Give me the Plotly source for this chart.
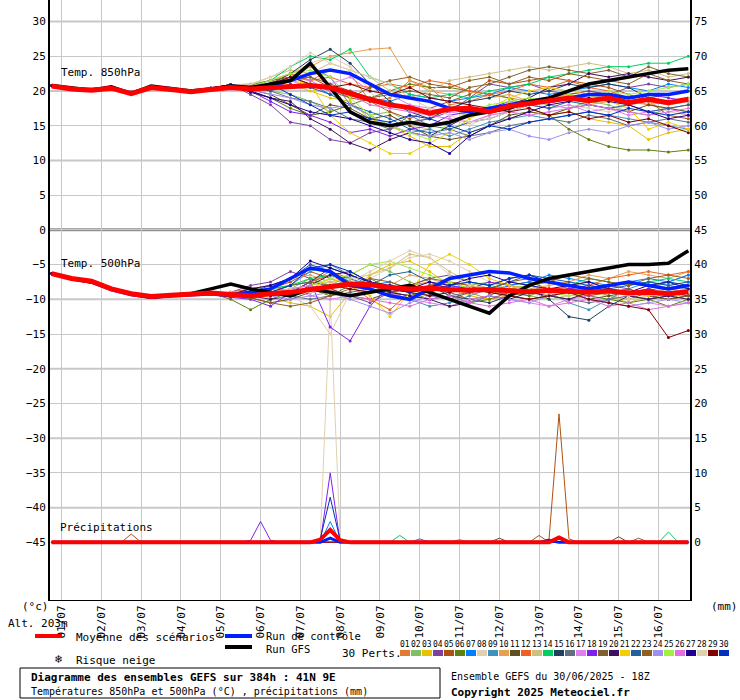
import plotly.graph_objects as go
from datetime import datetime, timedelta

START = datetime(2025, 6, 30, 18)
HOURS12 = list(range(0, 385, 12))
HOURS6 = list(range(0, 385, 6))
DAYS = ["%02d/07" % d for d in range(1, 17)]

COLORS = ["#e07b30", "#80c060", "#e8c000", "#8040a0", "#b05010", "#608010", "#0080ff", "#e0d0b0",
          "#4090c0", "#e8a050", "#605020", "#f06020", "#d0c080", "#00d060", "#204060", "#607080",
          "#e080f0", "#8020f0", "#806030", "#401060", "#f0d000", "#2060a0", "#906020", "#a090f0",
          "#a0f040", "#e070e0", "#200090", "#e0d0b0", "#800000", "#0030c0"]

EARLY850 = [20.8, 20.3, 20.1, 20.5, 19.8, 20.6, 20.3, 20.0, 20.4, 20.9]
TAIL850 = [
[20.8,21.5,22.0,21.5,23.0,22.5,18.5,19.0,21.5,20.5,18.0,18.5,19.5,19.0,18.5,19.0,19.5,20.0,19.5,18.5,18.0,17.5,18.0],
[20.5,20.0,19.5,18.5,17.0,18.0,16.5,17.0,15.5,16.0,17.5,16.5,17.0,18.0,18.5,18.0,17.5,18.5,18.0,17.0,16.5,17.5,17.0],
[20.3,20.5,21.0,20.0,19.0,18.5,16.0,15.0,13.5,12.0,12.0,14.0,15.0,16.0,17.0,16.5,17.0,16.0,15.5,15.0,13.0,14.0,14.5],
[19.5,18.0,15.5,15.0,13.0,12.5,14.0,14.5,15.5,16.0,17.0,19.0,21.0,20.5,21.0,20.0,19.5,20.0,19.5,20.5,21.0,20.5,21.0],
[20.5,21.0,21.5,22.0,20.5,19.0,18.5,17.0,16.0,17.5,18.5,19.5,21.5,21.0,21.5,22.0,21.5,21.0,20.5,19.5,18.5,16.5,16.0],
[20.0,19.0,17.5,16.5,17.0,18.0,19.0,20.0,21.0,20.5,20.5,20.0,19.5,19.0,17.5,16.5,14.5,13.0,12.0,11.5,11.5,11.2,11.5],
[20.8,21.5,20.5,21.0,19.5,20.0,19.0,18.5,19.5,19.0,18.5,19.0,19.5,20.5,20.0,19.5,20.0,20.5,21.0,20.5,20.0,21.0,20.5],
[21.0,21.5,22.5,24.0,25.0,23.5,20.0,16.5,15.0,14.5,16.0,15.0,16.5,17.0,18.0,17.5,18.0,17.5,17.0,18.0,18.5,17.0,16.5],
[20.5,21.0,22.0,23.5,22.0,18.0,16.5,15.0,14.0,14.5,13.5,14.5,15.5,16.0,16.5,16.0,16.5,17.0,16.5,16.0,15.5,15.0,14.5],
[20.6,21.5,22.5,23.5,25.0,25.5,26.0,26.2,21.5,20.0,19.5,20.0,19.0,19.5,18.5,19.0,19.5,18.0,18.5,19.0,18.0,18.5,19.0],
[20.2,19.5,18.0,16.5,18.0,17.5,16.0,16.5,15.0,13.5,13.0,13.5,15.0,16.5,17.0,16.5,17.5,18.0,17.5,17.0,18.0,17.5,17.0],
[20.7,21.0,22.5,21.5,22.0,21.0,20.5,21.0,20.5,21.5,21.0,20.0,19.5,20.0,21.0,20.5,21.5,20.5,20.0,19.0,18.5,18.0,18.5],
[21.0,22.0,23.0,22.5,24.0,23.0,22.0,20.0,19.0,20.0,21.5,22.0,22.5,23.0,23.5,23.0,23.5,24.0,23.5,22.5,23.0,22.0,22.5],
[20.9,21.5,23.5,25.0,24.5,26.0,22.0,21.0,19.5,19.0,19.5,19.0,20.0,20.5,21.0,22.0,22.5,23.0,23.5,23.5,24.0,24.0,25.0],
[20.4,21.0,22.5,24.5,26.0,24.0,21.0,18.5,17.0,16.0,17.5,18.5,19.0,20.0,19.5,20.0,21.0,20.5,21.0,20.5,19.0,19.5,20.0],
[20.3,20.0,19.0,18.5,17.5,16.0,15.5,14.5,16.5,15.0,14.5,13.5,14.0,15.0,15.5,16.0,15.5,16.5,16.0,15.0,15.5,16.0,15.5],
[20.9,21.0,21.5,20.5,21.0,22.0,20.0,19.5,18.0,17.5,17.0,16.5,17.0,17.5,18.0,17.5,18.0,17.0,17.5,16.5,17.0,17.5,16.5],
[20.0,18.5,17.0,16.5,15.5,14.0,14.5,13.5,14.5,15.0,16.5,17.0,17.5,18.5,18.0,19.0,18.5,19.5,19.0,18.0,19.5,19.0,18.5],
[20.4,21.0,21.5,22.0,21.0,20.0,19.0,19.5,20.0,19.5,19.0,20.5,21.0,22.0,23.0,23.5,23.0,22.5,23.0,22.0,23.5,22.5,22.0],
[19.8,19.0,18.5,16.0,14.5,12.5,11.5,13.0,14.0,13.5,15.0,16.5,17.5,18.0,19.0,20.5,21.0,22.5,22.0,22.5,22.0,21.5,22.0],
[20.6,21.0,21.5,21.0,16.5,14.0,12.5,11.0,11.0,12.5,14.0,16.0,17.5,19.0,20.0,20.5,20.0,19.5,18.5,17.5,14.5,15.5,14.5],
[20.5,20.0,21.0,20.5,19.5,18.0,17.0,16.0,14.5,14.0,14.5,15.5,16.0,17.0,18.0,17.5,18.5,18.0,17.5,18.0,17.0,17.5,18.0],
[20.8,21.5,22.0,21.0,20.0,19.0,20.5,21.5,22.0,21.0,20.5,21.5,22.0,21.0,22.0,21.5,22.5,22.0,21.5,21.0,22.5,21.5,21.0],
[20.1,19.5,19.0,18.0,17.5,18.0,16.5,15.0,14.0,13.5,14.0,13.0,14.0,14.5,13.5,13.0,14.0,14.5,14.0,15.0,15.5,14.5,15.0],
[20.7,21.5,22.5,23.0,22.0,19.0,16.5,15.0,14.0,13.0,15.5,17.0,18.0,18.5,19.0,18.5,19.5,19.0,20.0,19.5,20.0,20.5,21.0],
[20.5,21.0,22.0,21.5,20.0,19.5,18.0,17.5,17.0,16.5,16.0,15.5,16.5,17.0,16.5,17.0,17.5,18.0,17.5,17.0,16.5,17.0,17.5],
[20.0,19.0,18.0,17.0,16.5,16.0,15.0,14.0,13.0,12.5,11.0,13.5,15.0,16.0,17.0,18.0,18.5,19.0,18.5,18.0,17.0,16.0,16.5],
[20.9,22.0,23.5,25.5,24.0,23.0,22.0,21.0,19.0,17.5,16.5,15.5,16.0,17.0,18.0,18.5,19.0,19.5,19.0,18.5,19.0,18.0,18.5],
[20.3,21.0,22.0,21.0,20.5,21.0,20.0,19.5,20.5,19.0,18.5,18.0,17.5,17.0,17.5,16.5,17.0,16.0,16.5,15.5,16.0,15.0,14.0],
[20.6,21.0,19.5,18.0,16.5,17.0,16.0,15.5,16.5,16.0,15.0,14.0,15.0,14.5,15.5,16.0,16.5,17.0,16.5,17.5,17.0,16.5,17.0],
]
CTRL850 = [20.7,20.3,20.2,20.4,19.7,20.5,20.2,19.9,20.3,20.6,20.4,20.8,21.5,22.5,23.0,22.5,21.0,19.5,19.0,18.5,17.5,17.0,17.5,18.0,18.5,18.5,19.0,19.5,19.5,19.0,19.5,19.5,20.0]
GFS850 = [20.8,20.4,20.1,20.6,19.6,20.7,20.4,20.0,20.3,20.7,20.5,21.0,21.5,24.0,20.5,17.0,15.5,15.0,15.5,15.0,15.5,16.5,17.0,17.5,18.5,19.0,20.0,21.0,21.5,22.0,22.5,23.0,23.2]
MEAN850 = [20.7,20.3,20.1,20.4,19.6,20.5,20.2,19.9,20.2,20.5,20.3,20.5,20.6,20.8,20.5,19.6,18.8,18.0,17.6,16.8,17.4,17.5,17.0,17.8,18.2,18.5,19.0,18.6,19.0,18.3,18.8,18.3,18.8]

EARLY500 = [-6.3, -7.0, -7.4, -8.5, -9.2, -9.6, -9.4, -9.3, -9.1]
TAIL500 = [
[-9.0,-8.5,-9.5,-9.0,-7.5,-6.0,-7.0,-8.5,-9.5,-8.0,-7.5,-8.5,-9.0,-10.0,-9.5,-8.5,-9.0,-8.0,-7.5,-8.5,-9.0,-8.5,-7.5,-6.5],
[-9.5,-10.0,-9.0,-8.5,-7.0,-8.0,-6.5,-5.0,-6.0,-7.5,-8.5,-9.0,-8.0,-7.5,-8.5,-9.5,-10.0,-9.5,-9.0,-8.5,-9.5,-10.0,-9.0,-9.5],
[-9.3,-9.0,-9.8,-10.5,-11.0,-12.5,-9.0,-6.5,-5.0,-4.5,-6.0,-8.0,-9.5,-10.0,-9.0,-8.5,-9.5,-10.0,-9.0,-9.5,-10.5,-9.5,-10.0,-9.0],
[-9.0,-8.0,-7.5,-6.0,-7.0,-8.5,-9.5,-10.5,-9.0,-8.0,-7.0,-6.5,-7.5,-8.0,-7.0,-6.5,-7.5,-8.5,-9.0,-8.0,-8.5,-9.5,-10.0,-9.5],
[-9.5,-9.0,-8.5,-7.5,-6.0,-7.0,-8.0,-7.5,-9.0,-9.5,-8.5,-9.0,-10.0,-9.5,-8.0,-7.5,-8.5,-9.0,-8.5,-9.5,-10.0,-9.0,-8.5,-8.0],
[-10.0,-11.5,-10.0,-9.0,-8.5,-9.5,-8.0,-7.0,-8.5,-9.0,-10.0,-9.5,-10.5,-10.0,-9.0,-9.5,-8.5,-9.0,-9.5,-10.0,-10.5,-10.0,-11.0,-10.0],
[-9.2,-9.5,-9.0,-8.0,-7.5,-6.5,-7.0,-8.0,-7.5,-8.5,-9.0,-8.0,-8.5,-9.0,-8.0,-7.5,-6.5,-7.0,-7.5,-8.0,-7.5,-7.0,-7.5,-6.5],
[-9.0,-8.5,-9.0,-9.5,-11.0,-15.0,-9.0,-7.0,-5.5,-4.0,-3.5,-4.5,-6.0,-7.5,-8.5,-9.0,-10.0,-9.5,-9.0,-9.5,-10.0,-9.5,-9.0,-9.5],
[-9.6,-9.0,-8.5,-8.0,-6.0,-5.0,-6.5,-8.0,-9.0,-10.0,-11.0,-10.5,-9.5,-8.5,-7.5,-8.0,-9.0,-10.5,-11.5,-10.0,-8.5,-7.5,-8.0,-8.5],
[-9.1,-8.5,-8.0,-7.0,-6.5,-7.5,-8.5,-9.0,-8.0,-6.5,-7.0,-8.0,-7.5,-8.5,-9.0,-8.5,-8.0,-7.5,-6.5,-7.0,-6.0,-6.5,-7.0,-6.0],
[-9.4,-9.8,-10.5,-10.0,-9.0,-8.5,-9.5,-10.0,-9.0,-8.5,-9.5,-10.0,-9.0,-8.5,-9.5,-10.0,-9.5,-9.0,-10.0,-9.5,-9.0,-9.5,-10.0,-9.5],
[-9.0,-8.5,-8.0,-9.0,-7.5,-6.5,-8.0,-10.0,-11.5,-9.0,-8.0,-7.5,-8.0,-9.0,-8.5,-8.0,-7.5,-8.5,-8.0,-7.0,-6.5,-6.0,-6.5,-6.0],
[-9.3,-9.0,-9.5,-8.5,-8.0,-7.5,-7.0,-6.5,-5.5,-3.5,-4.0,-6.0,-7.5,-8.5,-9.0,-8.5,-9.5,-10.0,-9.0,-8.5,-9.0,-9.5,-9.0,-8.5],
[-9.5,-9.0,-8.5,-8.0,-7.0,-6.5,-7.5,-8.0,-8.5,-8.0,-9.0,-8.0,-7.5,-8.0,-8.5,-8.0,-7.5,-8.0,-7.0,-7.5,-8.0,-7.5,-7.0,-7.5],
[-9.2,-8.8,-9.5,-9.0,-7.5,-5.5,-6.5,-7.5,-8.5,-9.0,-8.0,-9.5,-10.0,-10.5,-9.5,-8.5,-10.0,-12.5,-13.0,-11.0,-9.5,-8.5,-9.0,-9.5],
[-9.4,-9.0,-8.5,-9.5,-10.0,-9.5,-9.0,-8.5,-9.0,-9.5,-10.0,-9.5,-9.0,-8.5,-9.5,-10.0,-9.5,-10.0,-10.5,-10.0,-9.5,-10.0,-9.5,-9.0],
[-9.1,-9.5,-9.0,-8.5,-9.5,-10.0,-9.5,-8.5,-9.0,-10.0,-10.5,-11.0,-10.0,-9.5,-10.0,-10.5,-11.0,-10.0,-9.5,-10.5,-11.0,-10.5,-11.0,-10.5],
[-9.7,-10.0,-11.0,-9.0,-7.5,-14.0,-16.0,-11.0,-8.0,-8.5,-9.0,-8.0,-8.5,-7.5,-8.0,-8.5,-9.0,-8.5,-8.0,-8.5,-9.0,-8.5,-9.5,-9.0],
[-9.3,-9.5,-9.0,-8.0,-7.5,-8.0,-7.5,-8.5,-9.0,-8.0,-7.0,-7.5,-8.5,-9.0,-9.5,-9.0,-8.5,-9.0,-9.5,-9.0,-8.5,-9.5,-10.0,-9.5],
[-9.0,-9.5,-10.0,-9.5,-8.0,-6.5,-6.0,-7.5,-9.0,-9.5,-10.0,-11.0,-10.5,-9.5,-10.0,-9.0,-9.5,-10.0,-9.0,-8.5,-9.5,-10.0,-9.5,-10.0],
[-9.5,-9.0,-8.5,-9.0,-8.5,-7.0,-8.0,-9.5,-12.5,-9.0,-5.0,-3.5,-5.0,-7.0,-8.0,-8.5,-9.0,-9.5,-9.0,-8.5,-9.0,-9.5,-9.0,-8.5],
[-9.2,-9.0,-8.0,-7.0,-5.0,-6.0,-7.5,-8.0,-6.5,-6.0,-7.5,-8.5,-9.0,-8.5,-7.5,-6.5,-7.0,-7.5,-8.0,-8.5,-8.0,-7.5,-8.0,-7.5],
[-9.6,-9.8,-10.5,-11.0,-10.5,-9.5,-8.5,-7.0,-7.5,-8.5,-8.0,-7.5,-8.0,-8.5,-7.5,-7.0,-7.5,-6.5,-7.0,-7.5,-8.0,-7.0,-6.5,-7.0],
[-9.4,-9.0,-9.5,-10.0,-9.5,-9.0,-10.0,-11.0,-12.0,-10.5,-9.5,-10.0,-10.5,-9.5,-10.0,-10.5,-9.5,-9.0,-10.0,-10.5,-11.0,-10.5,-10.0,-10.5],
[-9.0,-8.8,-9.2,-8.5,-8.0,-7.0,-6.5,-5.0,-4.5,-5.5,-6.5,-7.5,-8.5,-9.0,-8.5,-8.0,-9.0,-9.5,-9.0,-8.5,-9.5,-9.0,-8.5,-9.0],
[-9.5,-9.2,-9.0,-8.5,-8.0,-9.0,-9.5,-10.0,-10.5,-11.0,-10.0,-9.5,-10.5,-11.0,-10.5,-10.0,-11.0,-10.5,-10.0,-11.0,-10.5,-11.5,-11.0,-10.5],
[-9.3,-8.5,-8.0,-7.0,-4.5,-5.5,-6.5,-7.5,-8.0,-8.5,-7.5,-8.0,-7.0,-6.5,-7.5,-8.0,-8.5,-8.0,-7.5,-8.5,-9.0,-8.0,-7.5,-8.5],
[-9.1,-9.5,-9.0,-8.5,-9.0,-8.5,-7.5,-6.0,-4.5,-3.0,-4.0,-6.5,-8.0,-8.5,-9.0,-8.5,-9.5,-9.0,-8.5,-9.0,-9.5,-9.0,-8.5,-9.0],
[-9.4,-9.0,-9.5,-9.0,-8.5,-8.0,-8.5,-9.0,-8.5,-9.0,-9.5,-9.0,-8.5,-9.0,-9.5,-10.0,-9.5,-9.0,-10.0,-10.5,-11.0,-11.5,-15.5,-14.5],
[-9.2,-8.8,-9.0,-8.0,-5.5,-5.0,-6.0,-7.5,-8.5,-9.0,-8.5,-8.0,-7.5,-8.0,-7.0,-6.5,-7.5,-8.0,-8.5,-8.0,-7.5,-8.0,-7.5,-8.0],
]
CTRL500 = [-6.3,-7.0,-7.5,-8.6,-9.3,-9.7,-9.5,-9.4,-9.2,-9.5,-9.0,-8.5,-7.0,-5.5,-6.0,-8.0,-8.5,-9.5,-10.0,-8.5,-7.0,-6.5,-6.0,-6.2,-7.0,-7.5,-8.0,-8.5,-8.0,-7.5,-8.0,-8.5,-8.0]
GFS500 = [-6.3,-7.0,-7.5,-8.5,-9.2,-9.7,-9.4,-9.2,-8.5,-7.8,-8.5,-9.0,-9.5,-8.5,-9.0,-9.5,-9.0,-8.5,-8.0,-9.0,-10.0,-11.0,-12.0,-9.5,-8.0,-7.0,-6.5,-6.0,-5.5,-5.0,-5.0,-4.8,-3.0]
MEAN500 = [-6.3,-7.0,-7.4,-8.5,-9.2,-9.6,-9.4,-9.3,-9.1,-9.3,-9.5,-9.2,-9.0,-8.6,-8.2,-7.8,-7.9,-8.3,-8.5,-8.4,-8.6,-8.7,-8.6,-8.8,-8.9,-8.7,-8.9,-9.0,-8.8,-9.1,-9.0,-9.2,-8.9]

# precipitation (mm) per member, {hour: mm}, zero elsewhere (6-hourly)
PRECIP = {
    8: {162: 0.5, 168: 35.0, 174: 0.5},
    18: {120: 0.3, 126: 3.0, 132: 0.3, 168: 10.0},
    30: {162: 0.5, 168: 6.5, 174: 0.3},
    7: {168: 3.0, 222: 0.5},
    12: {168: 2.0, 246: 0.4},
    5: {48: 1.2, 300: 0.5, 306: 18.5, 312: 0.5},
    14: {210: 1.0, 372: 1.5},
    11: {270: 0.6, 342: 0.8},
    23: {294: 1.0, 354: 0.6},
}
MEANP = {162: 0.4, 168: 1.8, 174: 0.3, 306: 0.7}
CTRLP = {168: 0.6, 300: 0.3}
P_OFFSET = -45

def t(h):
    return [START + timedelta(hours=x) for x in h]

def prow(d):
    return [d.get(h, 0.0) + P_OFFSET for h in HOURS6]

fig = go.Figure()
x12 = t(HOURS12)
x6 = t(HOURS6)

for i in range(30):
    c = COLORS[i]
    ln = dict(color=c, width=1)
    mk = dict(size=3, color=c)
    fig.add_trace(go.Scatter(x=x12, y=EARLY850 + TAIL850[i], mode="lines+markers", line=ln, marker=mk, showlegend=False))
    fig.add_trace(go.Scatter(x=x12, y=EARLY500 + TAIL500[i], mode="lines+markers", line=ln, marker=mk, showlegend=False))
    fig.add_trace(go.Scatter(x=x6, y=prow(PRECIP.get(i + 1, {})), mode="lines", line=ln, showlegend=False))

for ys, x, c, w in [(CTRL850, x12, "#0020ff", 3.5), (CTRL500, x12, "#0020ff", 3.5), (prow(CTRLP), x6, "#0020ff", 3),
                    (GFS850, x12, "black", 3.5), (GFS500, x12, "black", 3.5),
                    (MEAN850, x12, "#ff0000", 5), (MEAN500, x12, "#ff0000", 5), (prow(MEANP), x6, "#ff0000", 4)]:
    fig.add_trace(go.Scatter(x=x, y=ys, mode="lines", line=dict(color=c, width=w), showlegend=False))

fig.add_trace(go.Scatter(x=[x12[0]], y=[0], yaxis="y2", mode="markers", marker=dict(opacity=0), showlegend=False, hoverinfo="skip"))

FONT = "DejaVu Sans Mono"
YMIN, YMAX = -53.3, 33.1
tickv = list(range(-45, 31, 5))
fig.update_layout(
    width=740, height=700, margin=dict(l=50, r=50, t=0, b=100),
    paper_bgcolor="white", plot_bgcolor="white",
    font=dict(family=FONT, size=11, color="black"),
    xaxis=dict(type="date", range=[START - timedelta(hours=1), START + timedelta(hours=385)],
               tickvals=[START + timedelta(hours=6 + 24 * k) for k in range(16)], ticktext=DAYS,
               tickangle=-90, showgrid=True, gridcolor="#c8c8c8", gridwidth=1, zeroline=False,
               showline=True, linecolor="black", linewidth=1, mirror=False, ticks=""),
    yaxis=dict(range=[YMIN, YMAX], tickvals=tickv, showgrid=True, gridcolor="#c8c8c8", gridwidth=1,
               zeroline=False, showline=True, linecolor="black", linewidth=2, ticks=""),
    yaxis2=dict(overlaying="y", side="right", range=[YMIN + 45, YMAX + 45], tickvals=list(range(0, 76, 5)),
                showgrid=False, zeroline=False, showline=True, linecolor="black", linewidth=2, ticks=""),
)
for v in range(-40, 31, 10):
    fig.add_hline(y=v, line=dict(color="#c8c8c8", width=2), layer="below")
fig.add_hline(y=0, line=dict(color="#909090", width=3), layer="below")

def px(xp):
    return (xp - 50) / 640.0
def py(yp):
    return (600 - yp) / 600.0

def text(s, x, y, size=11, bold=False, anchor="left"):
    fig.add_annotation(text=("<b>%s</b>" % s) if bold else s, x=px(x), y=py(y), xref="paper", yref="paper",
                       showarrow=False, xanchor=anchor, yanchor="middle", font=dict(size=size, family=FONT))

text("Temp. 850hPa", 59, 72)
text("Temp. 500hPa", 59, 263)
text("Précipitations", 58, 527)
text("(°c)", 20, 606)
text("Alt. 203m", 6, 623)
text("(mm)", 709, 606)
text("Moyenne des scénarios", 74, 637)
text("Run de contrôle", 264, 636, size=10.5)
text("Run GFS", 264, 649, size=10.5)
text("❄", 53, 659, size=12)
text("Risque neige", 74, 660)
text("30 Perts.", 340, 653)
for s, x0, y0, x1, col in [("m", 35, 636, 62, "#ff0000"), ("c", 225, 636, 252, "#0020ff"), ("g", 225, 647, 252, "black")]:
    fig.add_shape(type="line", xref="paper", yref="paper", x0=px(x0), x1=px(x1), y0=py(y0), y1=py(y0),
                  line=dict(color=col, width=4))
for i in range(30):
    x0 = 400 + i * 11
    text("%02d" % (i + 1), x0 + 5, 644, size=8, anchor="center")
    fig.add_shape(type="rect", xref="paper", yref="paper", x0=px(x0), x1=px(x0 + 10), y0=py(656), y1=py(650),
                  fillcolor=COLORS[i], line=dict(width=0))
fig.add_shape(type="rect", xref="paper", yref="paper", x0=px(20), x1=px(440), y0=py(698), y1=py(668),
              line=dict(color="black", width=1), fillcolor="rgba(0,0,0,0)")
text("Diagramme des ensembles GEFS sur 384h : 41N 9E", 29, 678, size=11, bold=True)
text("Températures 850hPa et 500hPa (°C) , précipitations (mm)", 29, 691, size=10)
text("Ensemble GEFS du 30/06/2025 - 18Z", 449, 676, size=10)
text("Copyright 2025 Meteociel.fr", 449, 692, size=11, bold=True)

fig.write_html("out.html", config={"displayModeBar": False},
               post_script="document.body.style.margin='0';document.body.style.overflow='hidden';")
